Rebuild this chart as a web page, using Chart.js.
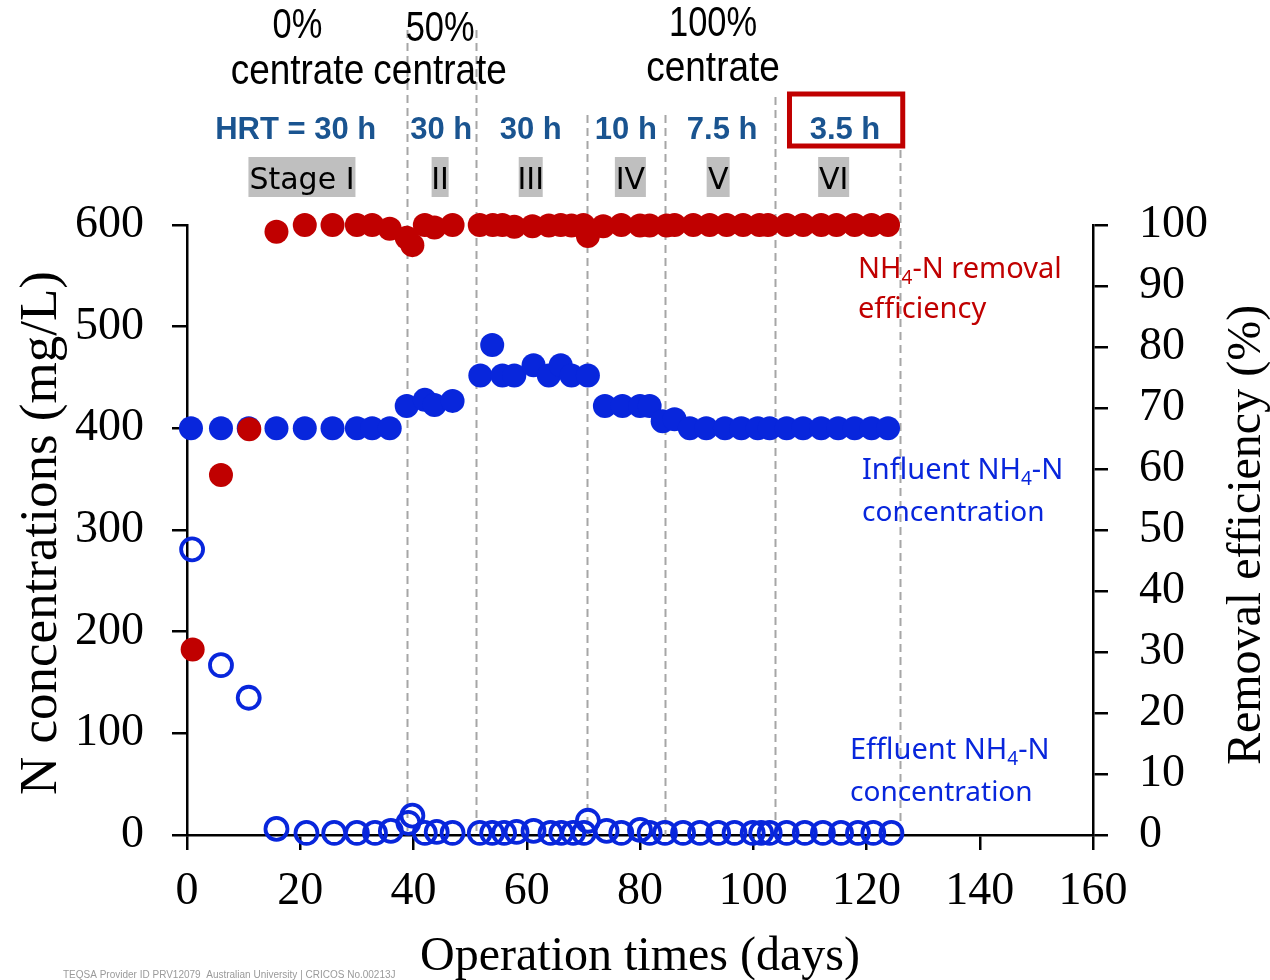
<!DOCTYPE html>
<html>
<head>
<meta charset="utf-8">
<script src="https://cdn.jsdelivr.net/npm/chart.js@4.4.1/dist/chart.umd.min.js"></script>
<style>
  html, body { margin: 0; padding: 0; background: #fff; }
  #wrap { width: 1270px; height: 980px; }
</style>
</head>
<body>
<div id="wrap"><canvas id="chart" width="1270" height="980"></canvas></div>
<script>
// operation days and values
const removalDays = [1, 6, 11, 15.8, 20.8, 25.7, 30, 32.7, 35.8, 38.8, 39.8, 42, 43.7, 46.9, 51.7, 54, 55.7, 57.8, 61, 63.9, 66, 67.9, 70, 70.8, 73.5, 76.7, 80, 81.7, 84.7, 86.1, 89.4, 92.3, 95.3, 98.2, 101.1, 102.6, 105.9, 108.8, 112, 114.7, 117.9, 120.9, 123.8]
const removalEff  = [30.4, 59, 66.5, 98.9, 100, 100, 100, 100, 99.4, 97.9, 96.7, 100, 99.6, 100, 100, 100, 100, 99.7, 99.8, 99.9, 100, 99.9, 100, 98.2, 99.8, 100, 99.9, 99.9, 99.9, 100, 100, 100, 100, 100, 100, 100, 100, 100, 100, 100, 100, 100, 100]

const influentDays = [0.7, 6, 10.9, 15.8, 20.8, 25.7, 30, 32.7, 35.8, 38.8, 42, 43.7, 46.9, 51.8, 53.9, 55.7, 57.8, 61.2, 63.9, 66, 67.9, 70.8, 73.8, 76.9, 80, 81.7, 84, 86.1, 88.8, 91.7, 95, 97.9, 100.8, 102.9, 105.9, 108.8, 112, 115, 117.9, 120.9, 123.8]
const influentConc = [400, 400, 400, 400, 400, 400, 400, 400, 400, 422, 428, 423, 427, 452, 482, 452, 452, 462, 452, 462, 452, 452, 422, 422, 422, 422, 407, 409, 400, 400, 400, 400, 400, 400, 400, 400, 400, 400, 400, 400, 400]

const effluentDays = [0.9, 6, 10.9, 15.8, 21.1, 26, 30, 33.2, 36, 39.1, 39.8, 42, 44.1, 46.9, 51.7, 53.9, 56, 58.2, 61.2, 64.2, 66.1, 68.2, 70.1, 70.8, 74.1, 76.7, 80, 81.7, 84.4, 87.6, 90.6, 93.8, 96.7, 99.9, 101.4, 102.9, 105.9, 109.1, 112.3, 115.5, 118.5, 121.2, 124.4]
const effluentConc = [281, 167, 135, 6, 2, 2, 2, 2, 4, 12, 19, 2, 3, 2, 2, 2, 2, 3, 4, 2, 2, 2, 2, 14, 4, 2, 5, 2, 2, 2, 2, 2, 2, 2, 2, 2, 2, 2, 2, 2, 2, 2, 2]

// stage boundaries (days)
const stageBounds = [38.8, 51.1, 70.6, 84.4, 103.8, 126]

const xTicks = [0, 20, 40, 60, 80, 100, 120, 140, 160]

const RED = "#C00000"
const BLUE = "#0826DC"
const HRT_BLUE = "#1A5490"

const pts = (xs, ys) => xs.map((x, i) => ({ x, y: ys[i] }))

function drawSubText(ctx, parts, x, y, size, color) {
  // parts: [text, isSub]
  ctx.save()
  ctx.fillStyle = color
  ctx.textAlign = "left"
  ctx.textBaseline = "alphabetic"
  let cx = x
  for (const [t, sub] of parts) {
    ctx.font = (sub ? Math.round(size * 0.65) : size) + 'px "Noto Sans"'
    ctx.fillText(t, cx, sub ? y + size * 0.22 : y)
    cx += ctx.measureText(t).width
  }
  ctx.restore()
}

function text(ctx, t, x, y, font, color, sx = 1) {
  ctx.save()
  ctx.font = font
  ctx.fillStyle = color
  ctx.textAlign = "center"
  ctx.textBaseline = "alphabetic"
  ctx.translate(x, y)
  ctx.scale(sx, 1)
  ctx.fillText(t, 0, 0)
  ctx.restore()
}

const decorPlugin = {
  id: "decor",
  beforeDatasetsDraw(chart) {
    const { ctx, scales: { x }, chartArea } = chart
    const tops = [30, 30, 115, 115, 97, 150]
    ctx.save()
    ctx.strokeStyle = "#A6A6A6"
    ctx.lineWidth = 2
    ctx.setLineDash([8, 5])
    stageBounds.forEach((d, i) => {
      const px = Math.round(x.getPixelForValue(d)) + 0.5
      ctx.beginPath()
      ctx.moveTo(px, tops[i])
      ctx.lineTo(px, chartArea.bottom)
      ctx.stroke()
    })
    ctx.restore()
  },
  afterDraw(chart) {
    const { ctx, scales: { x } } = chart
    const px = d => x.getPixelForValue(d)
    const narrow = '42px "Liberation Sans"'

    // feed labels
    text(ctx, "0%", px(19.5), 38, narrow, "#000", 0.82)
    text(ctx, "centrate", px(19.5), 84, narrow, "#000", 0.88)
    text(ctx, "50%", px(44.7), 41, narrow, "#000", 0.82)
    text(ctx, "centrate", px(44.7), 84, narrow, "#000", 0.88)
    text(ctx, "100%", px(92.9), 36, narrow, "#000", 0.82)
    text(ctx, "centrate", px(92.9), 81, narrow, "#000", 0.88)

    // HRT labels
    const hb = 'bold 31px "Liberation Sans"'
    text(ctx, "HRT = 30 h", px(19.2), 139, hb, HRT_BLUE)
    text(ctx, "30 h", px(44.9), 139, hb, HRT_BLUE)
    text(ctx, "30 h", px(60.7), 139, hb, HRT_BLUE)
    text(ctx, "10 h", px(77.5), 139, hb, HRT_BLUE)
    text(ctx, "7.5 h", px(94.5), 139, hb, HRT_BLUE)
    text(ctx, "3.5 h", px(116.2), 139, hb, HRT_BLUE)

    // red box round 3.5 h
    ctx.save()
    ctx.strokeStyle = RED
    ctx.lineWidth = 5
    ctx.strokeRect(px(106.4), 94, px(126.4) - px(106.4), 52)
    ctx.restore()

    // stage tags
    const stages = [["Stage I", 20.3, 107], ["II", 44.7, 17], ["III", 60.7, 24], ["IV", 78.3, 31], ["V", 93.8, 23], ["VI", 114.2, 31]]
    stages.forEach(([t, d, w]) => {
      const cx = px(d)
      ctx.fillStyle = "#BFBFBF"
      ctx.fillRect(cx - w / 2, 157, w, 40)
      text(ctx, t, cx, 189, '30px "DejaVu Sans"', "#000")
    })

    // series notes
    drawSubText(ctx, [["NH"], ["4", true], ["-N removal"]], 858, 278, 29, RED)
    drawSubText(ctx, [["efficiency"]], 858, 318, 29, RED)
    drawSubText(ctx, [["Influent NH"], ["4", true], ["-N"]], 862, 479, 29, BLUE)
    drawSubText(ctx, [["concentration"]], 862, 521, 28, BLUE)
    drawSubText(ctx, [["Effluent NH"], ["4", true], ["-N"]], 850, 759, 29, BLUE)
    drawSubText(ctx, [["concentration"]], 850, 801, 28, BLUE)

    // axis titles
    const tf = '48px "Liberation Serif"'
    text(ctx, "Operation times (days)", 640, 970, tf, "#000")
    const titles = [[56, 533, "N concentrations (mg/L)", '53px "Liberation Serif"'], [1260, 535, "Removal efficiency (%)", tf]]
    titles.forEach(([tx, ty, t, f]) => {
      ctx.save()
      ctx.translate(tx, ty)
      ctx.rotate(-Math.PI / 2)
      text(ctx, t, 0, 0, f, "#000")
      ctx.restore()
    })

    // footer
    ctx.save()
    ctx.font = '10px "Liberation Sans"'
    ctx.fillStyle = "#9A9A9A"
    ctx.textAlign = "left"
    ctx.fillText("TEQSA Provider ID PRV12079  Australian University | CRICOS No.00213J", 63, 978)
    ctx.restore()
  }
}

const axisCommon = {
  grid: { display: true, drawOnChartArea: false, drawTicks: true, tickLength: 15, color: "#000", lineWidth: 2.5 },
  border: { color: "#000", width: 2.5 },
  ticks: { color: "#000", font: { family: "Liberation Serif", size: 46 } }
}

new Chart(document.getElementById("chart"), {
  type: "scatter",
  data: {
    datasets: [
      {
        label: "NH4-N removal efficiency",
        data: pts(removalDays, removalEff),
        yAxisID: "y2",
        pointRadius: 12,
        pointBorderWidth: 0,
        backgroundColor: RED,
        borderColor: RED,
        clip: false
      },
      {
        label: "Influent NH4-N concentration",
        data: pts(influentDays, influentConc),
        yAxisID: "y",
        pointRadius: 12,
        pointBorderWidth: 0,
        backgroundColor: BLUE,
        borderColor: BLUE,
        clip: false
      },
      {
        label: "Effluent NH4-N concentration",
        data: pts(effluentDays, effluentConc),
        yAxisID: "y",
        pointRadius: 11,
        pointBorderWidth: 3.8,
        backgroundColor: "rgba(0,0,0,0)",
        borderColor: BLUE,
        clip: false
      }
    ]
  },
  options: {
    responsive: false,
    animation: false,
    layout: { padding: { top: 225, left: 0, right: 0, bottom: 0 } },
    plugins: { legend: { display: false }, tooltip: { enabled: false } },
    scales: {
      x: {
        ...axisCommon,
        type: "linear",
        min: 0,
        max: 160,
        afterBuildTicks: s => { s.ticks = xTicks.map(v => ({ value: v })) },
        ticks: { ...axisCommon.ticks, padding: 14, maxRotation: 0 },
        afterFit: s => { s.height = 145 }
      },
      y: {
        ...axisCommon,
        position: "left",
        min: 0,
        max: 600,
        ticks: { ...axisCommon.ticks, stepSize: 100, padding: 28 },
        afterFit: s => { s.width = 187 }
      },
      y2: {
        ...axisCommon,
        position: "right",
        min: 0,
        max: 100,
        ticks: { ...axisCommon.ticks, stepSize: 10, padding: 31 },
        afterFit: s => { s.width = 177 }
      }
    }
  },
  plugins: [decorPlugin]
})
</script>
</body>
</html>
